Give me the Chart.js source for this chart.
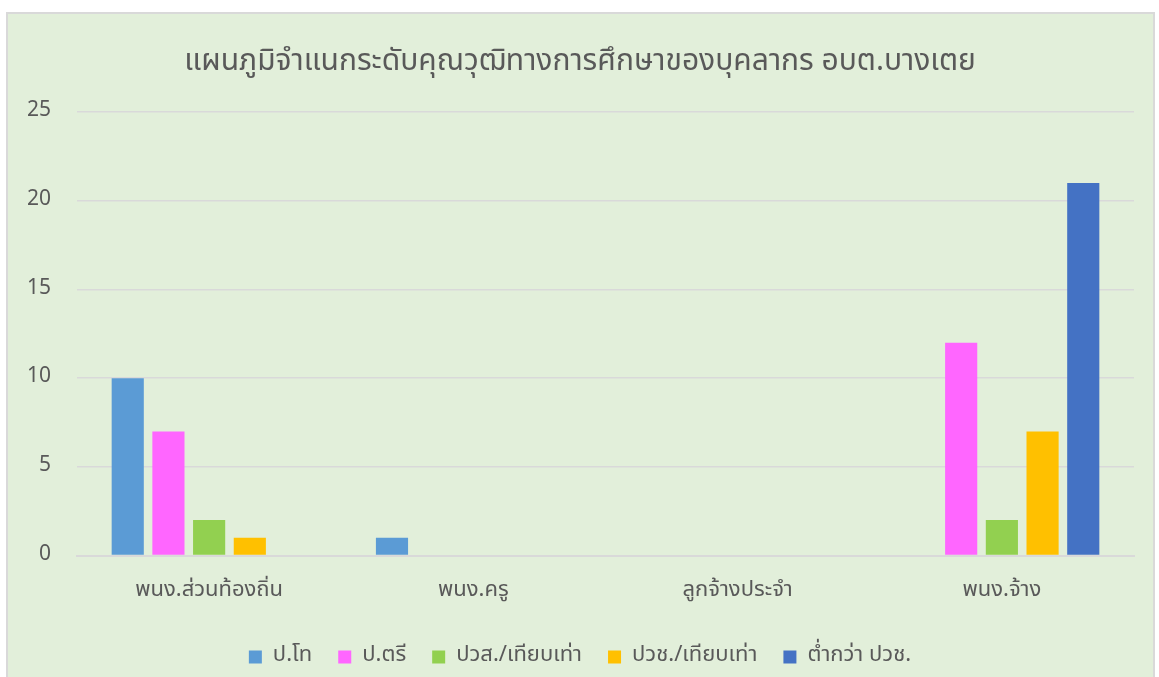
<!DOCTYPE html>
<html>
<head>
<meta charset="utf-8">
<script src="https://cdn.jsdelivr.net/npm/chart.js@4/dist/chart.umd.min.js"></script>
<style>
  body { margin: 0; background: #fff; }
  #box {
    position: absolute; left: 6px; top: 12px;
    width: 1145px; height: 670px;
    background: #E2EFDA; border: 2px solid #D9D9D9;
  }
</style>
</head>
<body>
<div id="box"><canvas id="chart" width="1145" height="670"></canvas></div>
<script>
const titleText = "แผนภูมิจำแนกระดับคุณวุฒิทางการศึกษาของบุคลากร อบต.บางเตย";
const categories = ["พนง.ส่วนท้องถิ่น", "พนง.ครู", "ลูกจ้างประจำ", "พนง.จ้าง"];
const masters = [10, 1, 0, 0];
const bachelor = [7, 0, 0, 12];
const diploma = [2, 0, 0, 2];
const vocational = [1, 0, 0, 7];
const belowVoc = [0, 0, 0, 21];
const yTicks = [0, 5, 10, 15, 20, 25];

const font = "'Noto Sans Thai', 'Noto Sans', sans-serif";
Chart.defaults.font.family = font;
Chart.defaults.color = "#595959";

const ctx = document.getElementById("chart");
new Chart(ctx, {
  type: "bar",
  data: {
    labels: categories,
    datasets: [
      { label: "ป.โท", data: masters, backgroundColor: "#5B9BD5" },
      { label: "ป.ตรี", data: bachelor, backgroundColor: "#FF66FF" },
      { label: "ปวส./เทียบเท่า", data: diploma, backgroundColor: "#92D050" },
      { label: "ปวช./เทียบเท่า", data: vocational, backgroundColor: "#FFC000" },
      { label: "ต่ำกว่า ปวช.", data: belowVoc, backgroundColor: "#4472C4" }
    ]
  },
  options: {
    responsive: false,
    animation: false,
    categoryPercentage: 0.77,
    barPercentage: 0.79,
    layout: { padding: { left: 18, right: 19, top: 18, bottom: 6 } },
    plugins: {
      title: {
        display: true,
        text: titleText,
        font: { size: 30, weight: "normal" },
        color: "#595959",
        padding: { top: 14, bottom: 30 }
      },
      legend: {
        position: "bottom",
        labels: {
          boxWidth: 13, boxHeight: 13,
          font: { size: 22 },
          color: "#595959",
          padding: 26
        }
      },
      tooltip: { enabled: false }
    },
    scales: {
      x: {
        grid: { display: false },
        border: { color: "#D9D9D9", width: 2 },
        ticks: { font: { size: 22 }, padding: 15 }
      },
      y: {
        min: 0, max: 25,
        afterBuildTicks: (axis) => { axis.ticks = yTicks.map(v => ({ value: v })); },
        afterFit: (axis) => { axis.width = 51; },
        grid: { color: "#D9D9D9", lineWidth: 1.5, drawTicks: false },
        border: { display: false },
        ticks: { font: { size: 21 }, padding: 26 }
      }
    }
  }
});
</script>
</body>
</html>
